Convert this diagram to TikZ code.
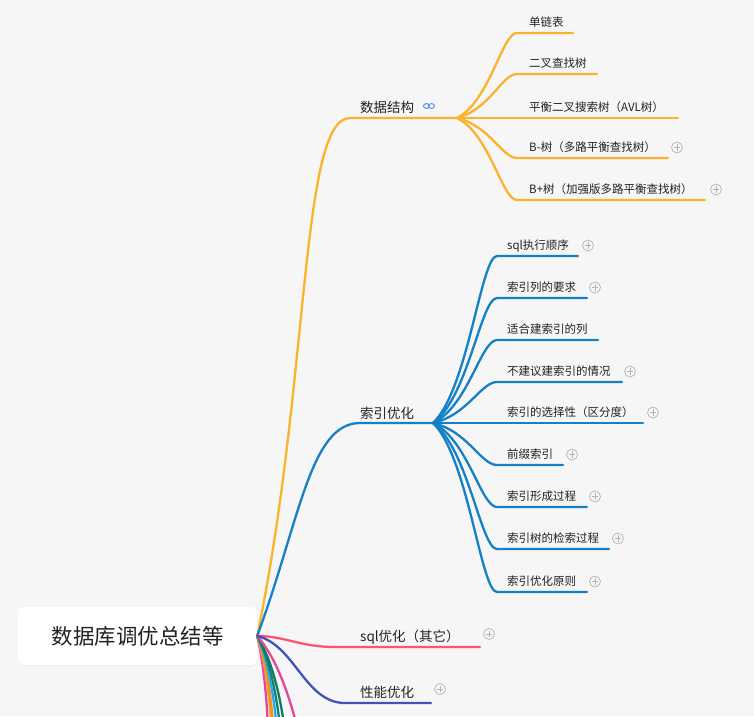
\documentclass[tikz,border=0pt]{standalone}
\usepackage{fontspec}
\setmainfont{Noto Sans CJK SC}
\usepackage{tikz}
\usetikzlibrary{shadows}

\definecolor{bgcol}{HTML}{F6F6F6}
\definecolor{txtcol}{HTML}{222222}
\definecolor{dsorange}{HTML}{FDB22B}
\definecolor{ixblue}{HTML}{1480C6}
\definecolor{sqpink}{HTML}{FF5470}
\definecolor{pfindigo}{HTML}{4352B8}
\definecolor{bmagenta}{HTML}{E4459A}
\definecolor{bpeach}{HTML}{F5A53A}
\definecolor{borange}{HTML}{EE9129}
\definecolor{bcyan}{HTML}{22AAE8}
\definecolor{bteal}{HTML}{128275}
\definecolor{bgreen}{HTML}{177A5E}
\definecolor{bpink}{HTML}{E2479B}
\definecolor{plusgray}{HTML}{B3B3B3}
\definecolor{linkblue}{HTML}{5C8DF2}

\tikzset{
	conn/.style={line width=2.3pt, line cap=round},
	rootbox/.style={fill=white, rounded corners=6pt, minimum width=239pt, minimum height=58pt,
		text=txtcol, font=\fontsize{21.5}{24}\selectfont,
		drop shadow={shadow xshift=0pt, shadow yshift=-1.5pt, opacity=0.06}},
	brtext/.style={anchor=base west, inner sep=0pt, text=txtcol, font=\fontsize{13.5}{16}\selectfont},
	chtext/.style={anchor=base west, inner sep=0pt, text=txtcol, font=\fontsize{11.5}{14}\selectfont},
	plusicon/.style={circle, draw=plusgray, line width=0.7pt, minimum size=11pt, inner sep=0pt,
		path picture={\draw[plusgray, line width=0.7pt]
			([xshift=-3.3pt]path picture bounding box.center) -- ([xshift=3.3pt]path picture bounding box.center)
			([yshift=-3.3pt]path picture bounding box.center) -- ([yshift=3.3pt]path picture bounding box.center);}},
	linkicon/.style={minimum width=14pt, minimum height=9pt, inner sep=0pt,
		path picture={\draw[linkblue, line width=1pt]
			([xshift=-2.5pt]path picture bounding box.center) ellipse (3pt and 2.4pt)
			([xshift=2.5pt]path picture bounding box.center) ellipse (3pt and 2.4pt);}}
}

\begin{document}
\begin{tikzpicture}[x=1pt, y=-1pt]
	\fill[bgcol] (0,0) rectangle (754,716);
	\useasboundingbox (0,0) rectangle (754,716);
	\def\dsx{529}
	\def\ixx{507}
	
	\node[rootbox] (root) at (137.5,636) {数据库调优总结等};
	
	\begin{scope}
		\clip (0,0) rectangle (754,716);
		\foreach \i/\c/\a/\b/\e in {1/bmagenta/263/268/269, 2/bpeach/265/271/273, 3/borange/266/273/275, 4/bcyan/268/276/279, 5/bteal/270/279/283, 6/bgreen/272/283/288, 7/bpink/278/292/305}{
			\coordinate (bt\i) at (\e,760);
			\draw[conn, \c] (root.east) .. controls (\a,660) and (\b,700) .. (bt\i);
		}
	\end{scope}
	
	\coordinate (ds-s) at (350,118);
	\coordinate (ds-hub) at (457,118);
	\draw[conn, dsorange] (root.east) .. controls (310,380) and (300,118) .. (ds-s) -- (ds-hub);
	\node[brtext] (ds) at (360,112.5) {数据结构};
	\node[linkicon] (ds-link) at (429,106) {};
	\foreach \i/\y/\xe/\px/\txt in {1/33/573/0/单链表, 2/74/597/0/二叉查找树, 3/118/678/0/平衡二叉搜索树（AVL树）, 4/158/668/677/B-树（多路平衡查找树）, 5/200/705/716/B+树（加强版多路平衡查找树）}{
		\coordinate (ds\i-s) at (517,\y);
		\coordinate (ds\i-e) at (\xe,\y);
		\draw[conn, dsorange] (ds-hub) .. controls +(33,{0.2*(\y-118)}) and +(-15,0) .. (ds\i-s) -- (ds\i-e);
		\node[chtext] (ds\i) at (\dsx,\y-7) {\txt};
		\ifnum\px>0 \node[plusicon] (ds\i-p) at (\px,\y-10.5) {}; \fi
	}
	
	\coordinate (ix-s) at (360,423);
	\coordinate (ix-hub) at (433,423);
	\draw[conn, ixblue] (root.east) .. controls (300,520) and (310,423) .. (ix-s) -- (ix-hub);
	\node[brtext] (ix) at (360,418) {索引优化};
	\foreach \i/\y/\xe/\px/\txt in {1/256/578/588/sql执行顺序, 2/298/587/595/索引列的要求, 3/340/598/0/适合建索引的列, 4/382/622/630/不建议建索引的情况, 5/423/643/653/索引的选择性（区分度）, 6/465/563/572/前缀索引, 7/507/587/595/索引形成过程, 8/549/609/618/索引树的检索过程, 9/592/587/595/索引优化原则}{
		\coordinate (ix\i-s) at (497,\y);
		\coordinate (ix\i-e) at (\xe,\y);
		\draw[conn, ixblue] (ix-hub) .. controls +(35,{0.2*(\y-423)}) and +(-16,0) .. (ix\i-s) -- (ix\i-e);
		\node[chtext] (ix\i) at (\ixx,\y-7) {\txt};
		\ifnum\px>0 \node[plusicon] (ix\i-p) at (\px,\y-10.5) {}; \fi
	}
	
	\coordinate (sq-s) at (335,647);
	\coordinate (sq-e) at (480,647);
	\draw[conn, sqpink] (root.east) .. controls (285,636) and (300,647) .. (sq-s) -- (sq-e);
	\node[brtext] (sq) at (360,641) {sql优化（其它）};
	\node[plusicon] (sq-p) at (489,634) {};
	
	\coordinate (pf-s) at (345,703);
	\coordinate (pf-e) at (431,703);
	\draw[conn, pfindigo] (root.east) .. controls (295,645) and (305,703) .. (pf-s) -- (pf-e);
	\node[brtext] (pf) at (360,697) {性能优化};
	\node[plusicon] (pf-p) at (440,689) {};
\end{tikzpicture}
\end{document}
